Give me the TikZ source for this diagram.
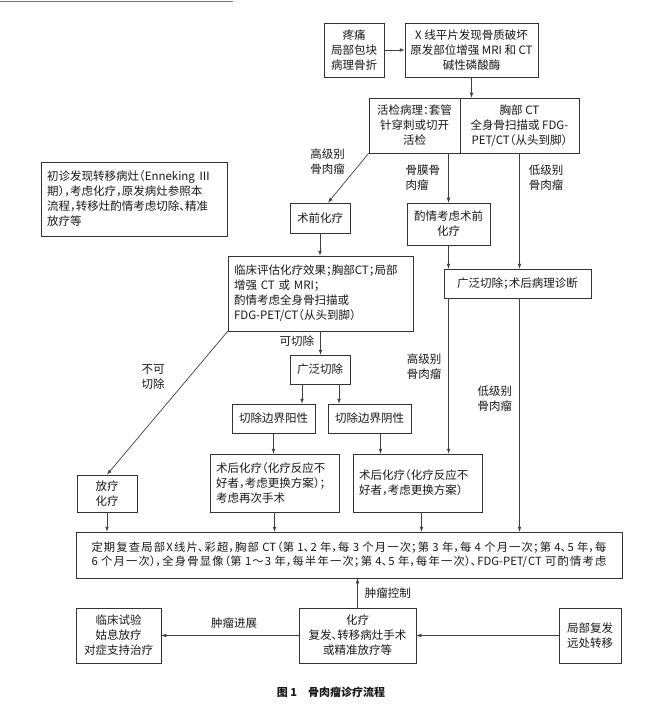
\documentclass[tikz,border=0pt]{standalone}
\usepackage{fontspec}
\setmainfont{Noto Sans CJK SC}[RawFeature=+halt]
\usetikzlibrary{arrows,calc}

\tikzset{
	box/.style={draw=black!80, line width=0.7pt, text=black!90, align=center, inner sep=0pt, font=\fontsize{11.5}{15}\selectfont},
	lbox/.style={box, align=left, inner xsep=6pt},
	lab/.style={text=black!90, align=left, inner sep=0pt, font=\fontsize{11.5}{15}\selectfont},
	arr/.style={->,>=latex, draw=black!75, line width=0.7pt}
}
\newcommand{\fullline}[1]{\parbox{515pt}{\XeTeXlinebreaklocale "zh"\XeTeXlinebreakskip=0pt plus 2pt\parfillskip=0pt\relax #1}}

\begin{document}
\begin{tikzpicture}[x=1pt,y=-1pt]
	\useasboundingbox (0,0) rectangle (660,708);
	\draw[black!55, line width=1pt] (0,2) -- (233,2);
	\node[box, minimum width=60, minimum height=54] (0) at (354,50) {疼痛\\局部包块\\病理骨折};
	\node[box, minimum width=133, minimum height=54] (1) at (471.5,50) {X 线平片发现骨质破坏\\原发部位增强 MRI 和 CT\\碱性磷酸酶};
	\node[box, minimum width=91, minimum height=55] (2) at (414.5,125.5) {活检病理：套管\\针穿刺或切开\\活检};
	\node[box, minimum width=119, minimum height=55] (3) at (519.5,125.5) {胸部 CT\\全身骨扫描或 FDG-\\PET/CT（从头到脚）};
	\node[lbox, text width=174, minimum height=74] (4) at (134,199) {初诊发现转移病灶（Enneking Ⅲ\\期），考虑化疗，原发病灶参照本\\流程，转移灶酌情考虑切除、精准\\放疗等};
	\node[box, minimum width=60, minimum height=30] (5) at (320,218) {术前化疗};
	\node[box, minimum width=83, minimum height=42] (6) at (448.5,224) {酌情考虑术前\\化疗};
	\node[box, minimum width=147, minimum height=29] (7) at (517.5,283.5) {广泛切除；术后病理诊断};
	\node[lbox, text width=173, minimum height=75] (8) at (320.5,293.5) {临床评估化疗效果；胸部CT；局部\\增强 CT 或 MRI；\\酌情考虑全身骨扫描或\\FDG-PET/CT（从头到脚）};
	\node[box, minimum width=60, minimum height=29] (9) at (320,369.5) {广泛切除};
	\node[box, minimum width=83, minimum height=29] (10) at (273.5,418.5) {切除边界阳性};
	\node[box, minimum width=83, minimum height=29] (11) at (369.5,418.5) {切除边界阴性};
	\node[lbox, text width=117, minimum height=58] (12) at (274.5,483) {术后化疗（化疗反应不\\好者，考虑更换方案）；\\考虑再次手术};
	\node[lbox, text width=117, minimum height=58] (13) at (417.5,483) {术后化疗（化疗反应不\\好者，考虑更换方案）};
	\node[box, minimum width=60, minimum height=37] (14) at (107,493.5) {放疗\\化疗};
	\node[box, minimum width=546, minimum height=46, font=\fontsize{11.3}{14}\selectfont] (15) at (349,555) {\fullline{定期复查局部X线片、彩超，胸部 CT（第 1、2 年，每 3 个月一次；第 3 年，每 4 个月一次；第 4、5 年，每}\\\fullline{6 个月一次），全身骨显像（第 1～3 年，每半年一次；第 4、5 年，每年一次）、FDG-PET/CT 可酌情考虑}};
	\node[box, minimum width=85, minimum height=55] (16) at (118.5,635.5) {临床试验\\姑息放疗\\对症支持治疗};
	\node[box, minimum width=117, minimum height=55] (17) at (357.5,635.5) {化疗\\复发、转移病灶手术\\或精准放疗等};
	\node[box, minimum width=62, minimum height=55] (18) at (590,635.5) {局部复发\\远处转移};
	\node[lab, font=\fontsize{11}{14}\selectfont\bfseries] (19) at (331,692) {图 1\quad 骨肉瘤诊疗流程};
	\draw[arr] (0)--(1);
	\draw[arr] (1.south)--(1.south|-2.north);
	\draw[arr] (2.south west)--([xshift=8]5.north) node[lab,pos=0.16,left=17pt] (l1) {高级别\\骨肉瘤};
	\draw[arr] (6.north|-2.south)--(6.north) node[lab,pos=0.5,left=8pt] (l2) {骨膜骨\\肉瘤};
	\draw[arr] (3.south)--(3.south|-7.north) node[lab,pos=0.21,right=9pt] (l3) {低级别\\骨肉瘤};
	\draw[arr] (5.south)--(5.south|-8.north);
	\draw[arr] (6.south)--(6.south|-7.north);
	\draw[arr] (8.south)--(8.south|-9.north) node[lab,pos=0.4,left=6pt] (l4) {可切除};
	\draw[arr] (8.south west)--(14.north) node[lab,pos=0.32,left=24pt] (l5) {不可\\切除};
	\draw[arr] ($(9.south)+(-18,0)$) coordinate (p1) -- (p1|-10.north);
	\draw[arr] ($(9.south)+(19,0)$) coordinate (p2) -- (p2|-11.north);
	\draw[arr] (10.south)--(10.south|-12.north);
	\draw[arr] ($(11.south)+(11,0)$) coordinate (p3) -- (p3|-13.north);
	\draw[arr] ($(7.south west)+(5,0)$) coordinate (p4) -- (p4|-13.north) node[lab,pos=0.44,left=7pt] (l6) {高级别\\骨肉瘤};
	\draw[arr] (3.south|-7.south)--(3.south|-15.north) node[lab,pos=0.43,left=7pt] (l7) {低级别\\骨肉瘤};
	\draw[arr] (14.south)--(14.south|-15.north);
	\draw[arr] (12.south)--(12.south|-15.north);
	\draw[arr] ($(13.south)+(4,0)$) coordinate (p5) -- (p5|-15.north);
	\draw[arr] (17.north)--(17.north|-15.south) node[lab,pos=0.5,right=7pt] (l8) {肿瘤控制};
	\draw[arr] (17)--(16) node[lab,pos=0.47,above=7pt] (l9) {肿瘤进展};
	\draw[arr] (18)--(17);
\end{tikzpicture}
\end{document}
